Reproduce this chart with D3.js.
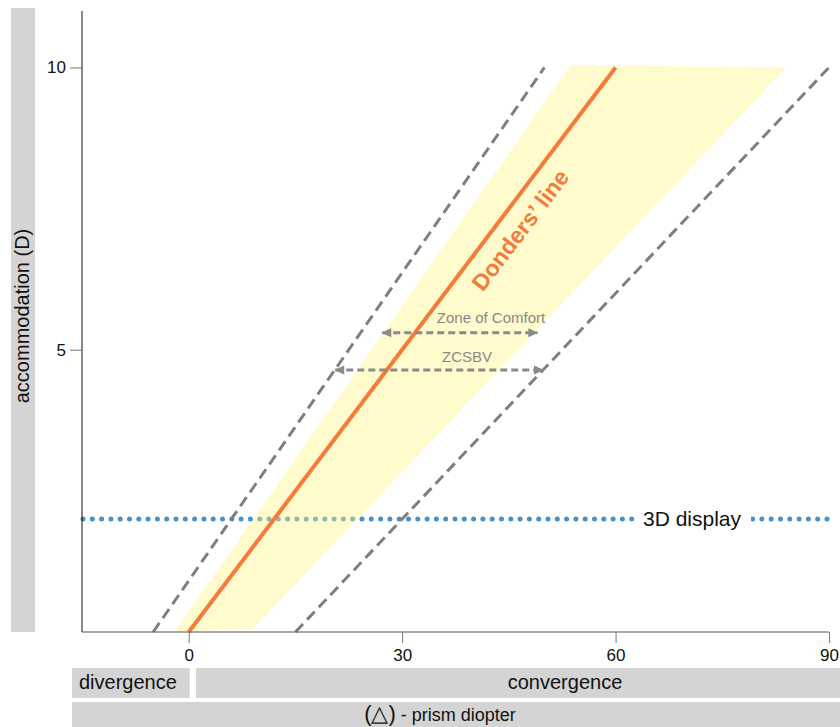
<!DOCTYPE html>
<html>
<head>
<meta charset="utf-8">
<script src="https://cdn.jsdelivr.net/npm/d3@7"></script>
<style>
  body { margin: 0; background: #fff; }
  svg { font-family: "Liberation Sans", Arial, sans-serif; display: block; }
</style>
</head>
<body>
<div id="chart"></div>
<script>
// data
const xTicks = [0, 30, 60, 90];
const yTicks = [5, 10];
const dondersLine = [[0, 0], [60, 10]];
const zcsbvLeft = [[-5, 0], [50, 10]];
const zcsbvRight = [[15, 0], [90, 10]];
const comfortZone = [[-2, 0], [9, 0.05], [84, 10], [53.7, 10.05]];
const comfortArrow = [[27.2, 5.3], [49, 5.3]];
const zcsbvArrow = [[20.6, 4.64], [49.8, 4.64]];
const displayLevel = 2;

// svg container
const svgWidth = 840;
const svgHeight = 727;

const svg = d3.select("#chart").append("svg")
    .attr("width", svgWidth)
    .attr("height", svgHeight);

// scales
const xScale = d3.scaleLinear().domain([-15, 90]).range([82, 829]);
const yScale = d3.scaleLinear().domain([0, 11]).range([632, 11]);

const line = d3.line()
    .x(d => xScale(d[0]))
    .y(d => yScale(d[1]));

// grey label bands
svg.append("rect")
    .attr("x", 11).attr("y", 8)
    .attr("width", 24).attr("height", 624)
    .attr("fill", "#d4d4d4");
svg.append("text")
    .attr("transform", "translate(29, 316) rotate(-90)")
    .attr("text-anchor", "middle")
    .attr("font-size", 20)
    .attr("fill", "#111")
    .text("accommodation (D)");

svg.append("rect")
    .attr("x", 72).attr("y", 668)
    .attr("width", xScale(0) + 1 - 72).attr("height", 30)
    .attr("fill", "#d4d4d4");
svg.append("text")
    .attr("x", 79).attr("y", 689)
    .attr("font-size", 20)
    .attr("fill", "#111")
    .text("divergence");

svg.append("rect")
    .attr("x", 196).attr("y", 668)
    .attr("width", svgWidth - 196).attr("height", 30)
    .attr("fill", "#d4d4d4");
svg.append("text")
    .attr("x", 565).attr("y", 689)
    .attr("text-anchor", "middle")
    .attr("font-size", 20)
    .attr("fill", "#111")
    .text("convergence");

svg.append("rect")
    .attr("x", 72).attr("y", 702)
    .attr("width", svgWidth - 72).attr("height", 25)
    .attr("fill", "#d4d4d4");
const unit = svg.append("text")
    .attr("x", 440).attr("y", 721)
    .attr("text-anchor", "middle")
    .attr("fill", "#111");
unit.append("tspan").attr("font-size", 22).text("(△)");
unit.append("tspan").attr("font-size", 18).text(" - prism diopter");

// 3D display level (drawn under the zone)
svg.append("line")
    .attr("x1", xScale(-15) + 1).attr("x2", xScale(90))
    .attr("y1", yScale(displayLevel)).attr("y2", yScale(displayLevel))
    .attr("stroke", "#4392c9")
    .attr("stroke-width", 5)
    .attr("stroke-linecap", "round")
    .attr("stroke-dasharray", "0 9.3");

// zone of comfort
svg.append("path")
    .datum(comfortZone)
    .attr("d", d => line(d) + "Z")
    .attr("fill", "rgb(255,244,130)")
    .attr("fill-opacity", 0.4);

// ZCSBV limits
[zcsbvLeft, zcsbvRight].forEach(seg => {
    svg.append("path")
        .datum(seg)
        .attr("d", line)
        .attr("fill", "none")
        .attr("stroke", "#7f7f7f")
        .attr("stroke-width", 3)
        .attr("stroke-dasharray", "11 6");
});

// Donders' line
svg.append("path")
    .datum(dondersLine)
    .attr("d", line)
    .attr("fill", "none")
    .attr("stroke", "#f47b3a")
    .attr("stroke-width", 4);

const angle = Math.atan2(yScale(10) - yScale(0), xScale(60) - xScale(0)) * 180 / Math.PI;
svg.append("text")
    .attr("transform", `translate(${xScale(46.6)}, ${yScale(7.12)}) rotate(${angle})`)
    .attr("text-anchor", "middle")
    .attr("dy", "0.35em")
    .attr("font-size", 23)
    .attr("font-weight", "bold")
    .attr("fill", "#f47b3a")
    .text("Donders’ line");

// arrows
svg.append("defs").append("marker")
    .attr("id", "arrow")
    .attr("viewBox", "0 -5 10 10")
    .attr("refX", 9)
    .attr("refY", 0)
    .attr("markerUnits", "userSpaceOnUse")
    .attr("markerWidth", 11)
    .attr("markerHeight", 10)
    .attr("orient", "auto-start-reverse")
    .append("path")
    .attr("d", "M0,-4.5L10,0L0,4.5Z")
    .attr("fill", "#8a8a8a");

[comfortArrow, zcsbvArrow].forEach(seg => {
    svg.append("path")
        .datum(seg)
        .attr("d", line)
        .attr("fill", "none")
        .attr("stroke", "#8a8a8a")
        .attr("stroke-width", 3)
        .attr("stroke-dasharray", "7 4")
        .attr("marker-start", "url(#arrow)")
        .attr("marker-end", "url(#arrow)");
});

svg.append("text")
    .attr("x", 491).attr("y", 323)
    .attr("text-anchor", "middle")
    .attr("font-size", 15)
    .attr("fill", "#888")
    .text("Zone of Comfort");
svg.append("text")
    .attr("x", 467).attr("y", 362)
    .attr("text-anchor", "middle")
    .attr("font-size", 15)
    .attr("fill", "#888")
    .text("ZCSBV");

// 3D display label
svg.append("rect")
    .attr("x", 635).attr("y", yScale(displayLevel) - 13)
    .attr("width", 116).attr("height", 26)
    .attr("fill", "#fff");
svg.append("text")
    .attr("x", 692).attr("y", yScale(displayLevel))
    .attr("dy", "0.35em")
    .attr("text-anchor", "middle")
    .attr("font-size", 21)
    .attr("fill", "#111")
    .text("3D display");

// axes
const yAxis = svg.append("g")
    .attr("transform", `translate(${xScale(-15)}, 0)`)
    .call(d3.axisLeft(yScale).tickValues(yTicks).tickSize(12).tickPadding(4));
yAxis.select(".domain").attr("stroke", "#111").attr("d", `M0,${yScale(11)}V${yScale(0)}`);

const xAxis = svg.append("g")
    .attr("transform", `translate(0, ${yScale(0)})`)
    .call(d3.axisBottom(xScale).tickValues(xTicks).tickSize(11).tickPadding(6));
xAxis.select(".domain").attr("stroke", "#555").attr("d", `M${xScale(-15)},0H${xScale(90)}`);

[yAxis, xAxis].forEach(ax => {
    ax.selectAll(".tick line").attr("stroke", "#777");
    ax.selectAll(".tick text")
        .attr("font-size", 17)
        .attr("font-family", "\"Liberation Sans\", Arial, sans-serif")
        .attr("fill", "#111");
});
</script>
</body>
</html>
